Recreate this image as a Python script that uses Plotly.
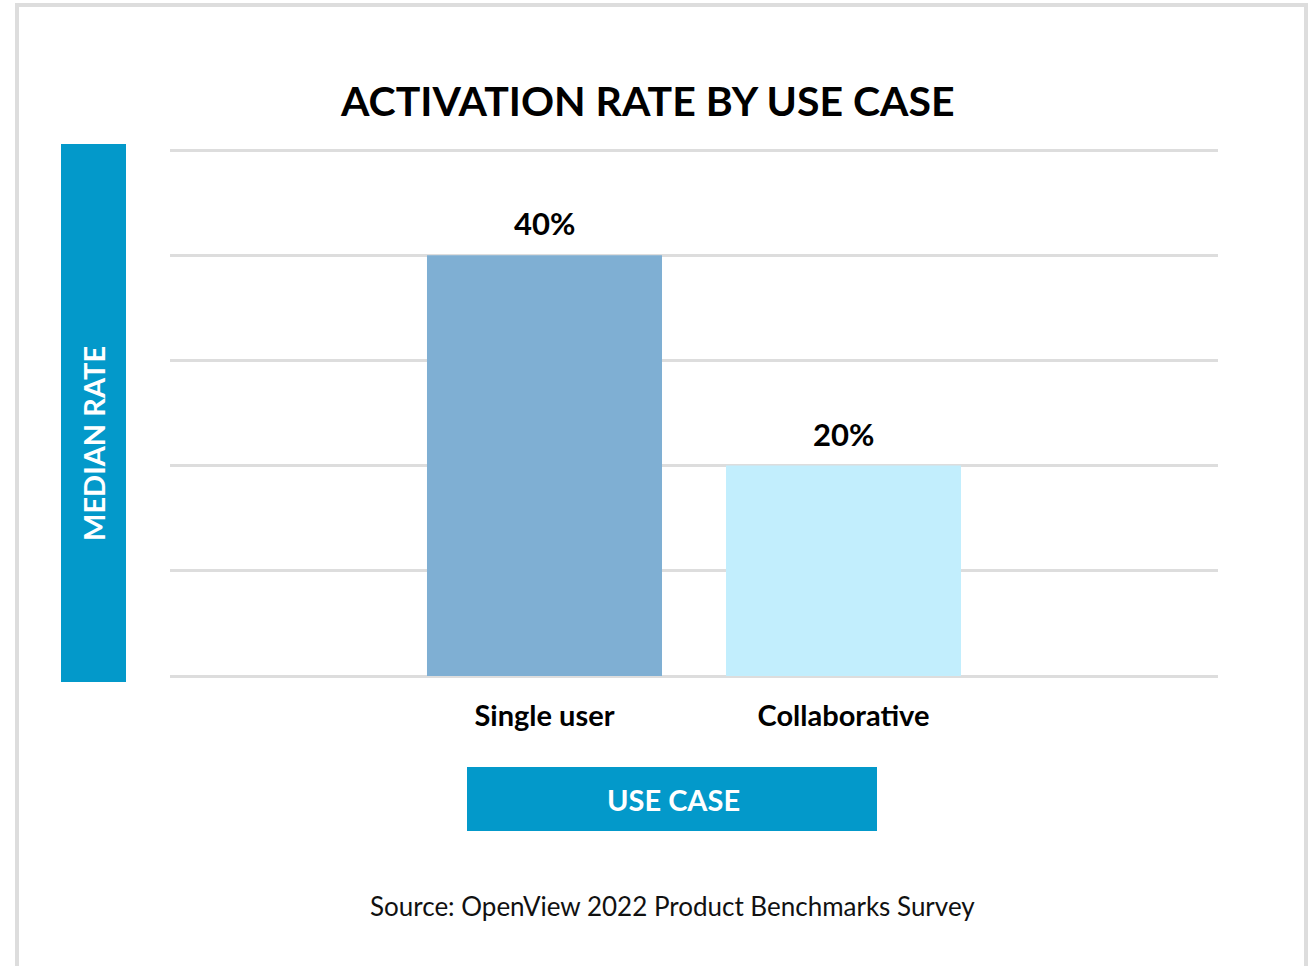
import plotly.graph_objects as go

categories = ["Single user", "Collaborative"]
values = [40, 20]
value_labels = ["40%", "20%"]
bar_colors = ["#7FAFD3", "#C2EEFD"]
y_ticks = [0, 10, 20, 30, 40, 50]

W, H = 1315, 966
L, R, T, B = 170, 97, 129, 290
PW, PH = W - L - R, H - T - B

def px(x):
    return (x - L) / PW

def py(y):
    return (H - B - y) / PH

BLUE = "#0399CA"
FONT = "Lato"

fig = go.Figure()
fig.add_trace(go.Bar(
    x=categories, y=values, marker=dict(color=bar_colors, line=dict(width=0)),
    width=0.786, hoverinfo="skip",
))

annotations = [
    dict(text=lab, x=c, y=v, xref="x", yref="y", showarrow=False, xanchor="center",
         yanchor="bottom", yshift=11, font=dict(family=FONT, size=31, color="#000", weight="bold"))
    for c, v, lab in zip(categories, values, value_labels)
]

annotations += [
    dict(text="ACTIVATION RATE BY USE CASE", xref="paper", yref="paper", x=px(647), y=py(100),
         showarrow=False, xanchor="center", yanchor="middle",
         font=dict(family=FONT, size=41, color="#000", weight="bold")),
    dict(text="MEDIAN RATE", xref="paper", yref="paper", x=px(93), y=py(444), textangle=-90,
         showarrow=False, xanchor="center", yanchor="middle",
         font=dict(family=FONT, size=29, color="white", weight="bold")),
    dict(text="USE CASE", xref="paper", yref="paper", x=px(673), y=py(799),
         showarrow=False, xanchor="center", yanchor="middle",
         font=dict(family=FONT, size=29, color="white", weight="bold")),
    dict(text="Source: OpenView 2022 Product Benchmarks Survey", xref="paper", yref="paper",
         x=px(672), y=py(906), showarrow=False, xanchor="center", yanchor="middle",
         font=dict(family=FONT, size=26, color="#111")),
]

fig.update_layout(
    width=W, height=H, autosize=False,
    margin=dict(l=L, r=R, t=T, b=B),
    paper_bgcolor="white", plot_bgcolor="white",
    showlegend=False,
    xaxis=dict(range=[-1.2525, 2.2525], showgrid=False, zeroline=False, showline=False,
               ticks="", tickfont=dict(family=FONT, size=29, color="#000", weight="bold"),
               ticklabelstandoff=20),
    yaxis=dict(range=[0, 52], tickvals=y_ticks, showticklabels=False, showgrid=True,
               gridcolor="#DDDDDD", gridwidth=3, zeroline=True, zerolinecolor="#DDDDDD",
               zerolinewidth=3, showline=False, ticks=""),
    shapes=[
        dict(type="rect", xref="paper", yref="paper", x0=px(17), x1=px(1306), y0=py(990), y1=py(5),
             line=dict(color="#DDDDDD", width=4), fillcolor="rgba(0,0,0,0)", layer="below"),
        dict(type="rect", xref="paper", yref="paper", x0=px(61), x1=px(126), y0=py(682), y1=py(144),
             line=dict(width=0), fillcolor=BLUE),
        dict(type="rect", xref="paper", yref="paper", x0=px(467), x1=px(877), y0=py(831), y1=py(767),
             line=dict(width=0), fillcolor=BLUE),
    ],
    annotations=annotations,
)

fig.write_html("out.html")
